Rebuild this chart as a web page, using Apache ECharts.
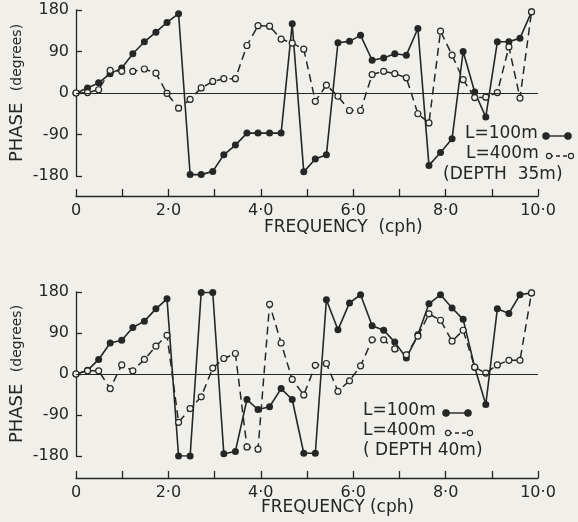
<!DOCTYPE html>
<html>
<head>
<meta charset="utf-8">
<script src="https://cdn.jsdelivr.net/npm/echarts@6/dist/echarts.min.js"></script>
<style>
  html, body { margin: 0; padding: 0; background: #f0efea; }
  #chart { width: 578px; height: 522px; }
</style>
</head>
<body>
<div id="chart"></div>
<script>
// frequency of each estimate (cph)
const freq = [0, 0.25, 0.49, 0.74, 0.99, 1.23, 1.48, 1.73, 1.97, 2.22, 2.47, 2.71, 2.96, 3.2, 3.45,
  3.7, 3.94, 4.19, 4.44, 4.68, 4.93, 5.18, 5.42, 5.67, 5.92, 6.16, 6.41, 6.66, 6.9, 7.15, 7.4,
  7.64, 7.89, 8.14, 8.38, 8.63, 8.87, 9.12, 9.37, 9.61, 9.86];

// depth 35 m
const top100 = [0, 11, 22, 42, 54, 85, 111, 132, 153, 172, -177, -177, -170, -134, -113, -87, -87, -87,
  -87, 150, -171, -143, -134, 109, 112, 125, 71, 76, 85, 82, 140, -157, -129, -99, 90, 2, -52, 111,
  111, 119, 176];
const top400 = [0, 1, 7, 49, 47, 47, 52, 43, -1, -33, -14, 11, 25, 31, 31, 103, 146, 145, 117, 108, 95,
  -18, 17, -7, -38, -38, 40, 47, 42, 33, -45, -65, 134, 82, 29, -10, -9, 1, 100, -11, 176];

// depth 40 m
const bot100 = [0, 8, 32, 68, 74, 102, 116, 143, 165, -180, -180, 179, 179, -175, -170, -56, -78, -72,
  -32, -56, -174, -174, 163, 97, 156, 174, 106, 96, 70, 35, 86, 154, 174, 145, 120, 15, -67, 143,
  133, 174, 178];
const bot400 = [0, 7, 7, -32, 20, 7, 32, 61, 85, -106, -76, -50, 13, 34, 45, -160, -165, 153, 68, -12,
  -46, 19, 23, -38, -15, 18, 75, 75, 55, 42, 83, 132, 118, 72, 96, 15, 2, 20, 30, 30, 178];

const yTicks = [-180, -90, 0, 90, 180];
const xLabels = { 0: "0", 2: "2·0", 4: "4·0", 6: "6·0", 8: "8·0", 10: "10·0" };

const ink = "#262626";
const bg = "#f0efea";
const font = "DejaVu Sans";

const chart = echarts.init(document.getElementById("chart"));

const pairs = (ys) => freq.map((f, i) => [f, ys[i]]);

function xAxisFor(idx, offset) {
  return {
    type: "value", gridIndex: idx, min: 0, max: 10, interval: 1, offset: offset,
    axisLine: { show: true, onZero: false, lineStyle: { color: ink, width: 1.3 } },
    axisTick: { show: true, inside: true, length: 7, lineStyle: { color: ink, width: 1.3 } },
    axisLabel: {
      color: ink, fontSize: 16, fontFamily: font, margin: 7,
      formatter: (v) => (xLabels[v] !== undefined ? xLabels[v] : ""),
    },
    splitLine: { show: false },
  };
}

function yAxisFor(idx) {
  return {
    type: "value", gridIndex: idx, min: -180, max: 180, interval: 90,
    axisLine: { show: true, lineStyle: { color: ink, width: 1.3 } },
    axisTick: { show: true, inside: true, length: 6, lineStyle: { color: ink, width: 1.3 } },
    axisLabel: {
      color: ink, fontSize: 16, fontFamily: font, margin: 7,
      formatter: (v) => (yTicks.includes(v) ? String(v) : ""),
    },
    splitLine: { show: false },
    name: "{a|PHASE}   {b|(degrees)}",
    nameLocation: "middle", nameRotate: 90, nameGap: 50, nameMoveOverlap: false,
    nameTextStyle: {
      color: ink, fontFamily: font,
      rich: { a: { fontSize: 18, fontFamily: font, color: ink }, b: { fontSize: 14, fontFamily: font, color: ink } },
    },
  };
}

function solidSeries(idx, ys, withZero) {
  const s = {
    type: "line", xAxisIndex: idx, yAxisIndex: idx, data: pairs(ys),
    symbol: "circle", symbolSize: 7, z: 3,
    lineStyle: { color: ink, width: 1.6 },
    itemStyle: { color: ink },
    animation: false,
  };
  if (withZero) {
    s.markLine = {
      silent: true, symbol: "none", label: { show: false },
      lineStyle: { color: ink, width: 1.2, type: "solid" },
      data: [{ yAxis: 0 }],
    };
  }
  return s;
}

function dashedSeries(idx, ys) {
  return {
    type: "line", xAxisIndex: idx, yAxisIndex: idx, data: pairs(ys),
    symbol: "circle", symbolSize: 6, z: 4,
    lineStyle: { color: ink, width: 1.5, type: [8, 5] },
    itemStyle: { color: bg, borderColor: ink, borderWidth: 1.2 },
    animation: false,
  };
}

// legend pieces: a text with a small dot-line-dot sample
function legendRow(x, y, label, mx, filled) {
  const els = [{ type: "text", left: x, top: y, style: { text: label, fill: ink, font: "17px " + font } }];
  const cy = y + 11;
  els.push({
    type: "line", shape: { x1: mx, y1: cy, x2: mx + 22, y2: cy },
    style: { stroke: ink, lineWidth: 1.4, lineDash: filled ? null : [4, 3] },
  });
  [mx, mx + 22].forEach((cx) => {
    els.push({
      type: "circle", shape: { cx: cx, cy: cy, r: filled ? 3.2 : 2.6 },
      style: { fill: filled ? ink : bg, stroke: ink, lineWidth: 1.1 }, z: 10,
    });
  });
  return els;
}

const option = {
  backgroundColor: bg,
  animation: false,
  grid: [
    { left: 76, right: 40, top: 10, height: 166, outerBoundsMode: "none", containLabel: false },
    { left: 76, right: 40, top: 292, height: 164, outerBoundsMode: "none", containLabel: false },
  ],
  xAxis: [xAxisFor(0, 20), xAxisFor(1, 22)],
  yAxis: [yAxisFor(0), yAxisFor(1)],
  series: [
    solidSeries(0, top100, true),
    dashedSeries(0, top400),
    solidSeries(1, bot100, true),
    dashedSeries(1, bot400),
  ],
  graphic: [
    { type: "text", left: 264, top: 219, style: { text: "FREQUENCY  (cph)", fill: ink, font: "17px " + font } },
    { type: "text", left: 261, top: 499, style: { text: "FREQUENCY (cph)", fill: ink, font: "17px " + font } },
    ...legendRow(465, 125, "L=100m", 546, true),
    ...legendRow(466, 145, "L=400m", 549, false),
    { type: "text", left: 443, top: 166, style: { text: "(DEPTH  35m)", fill: ink, font: "17px " + font } },
    ...legendRow(363, 402, "L=100m", 446, true),
    ...legendRow(363, 422, "L=400m", 448, false),
    { type: "text", left: 363, top: 442, style: { text: "( DEPTH 40m)", fill: ink, font: "17px " + font } },
  ],
};

chart.setOption(option);
</script>
</body>
</html>
